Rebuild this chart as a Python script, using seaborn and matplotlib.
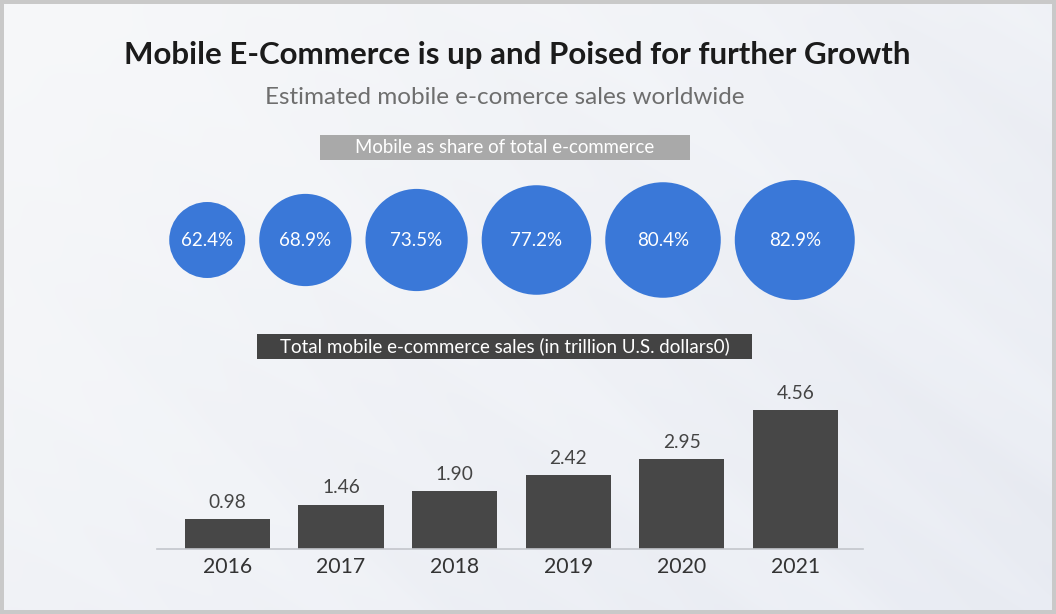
import numpy as np
import pandas as pd
import matplotlib
matplotlib.use("Agg")
import matplotlib.pyplot as plt
from matplotlib.patches import Rectangle
import seaborn as sns

# ---------------- data ----------------
years = ["2016", "2017", "2018", "2019", "2020", "2021"]
mobile_share = [62.4, 68.9, 73.5, 77.2, 80.4, 82.9]          # % of total e-commerce
sales_trillion = [0.98, 1.46, 1.90, 2.42, 2.95, 4.56]         # trillion U.S. dollars
share_labels = ["62.4%", "68.9%", "73.5%", "77.2%", "80.4%", "82.9%"]
sales_labels = ["0.98", "1.46", "1.90", "2.42", "2.95", "4.56"]

title = "Mobile E-Commerce is up and Poised for further Growth"
subtitle = "Estimated mobile e-comerce sales worldwide"
share_header = "Mobile as share of total e-commerce"
sales_header = "Total mobile e-commerce sales (in trillion U.S. dollars0)"

# ---------------- style ----------------
sns.set_theme(style="white")
plt.rcParams["font.family"] = ["Lato", "DejaVu Sans"]

W, H, DPI = 1056, 614, 100
fig = plt.figure(figsize=(W / DPI, H / DPI), dpi=DPI, facecolor="#c9c9c9")

# background panel (decorative gradient with soft diagonal streaks)
bg = fig.add_axes([4 / W, 4 / H, (W - 8) / W, (H - 8) / H])
yy, xx = np.mgrid[0:H, 0:W].astype(float)
t = (xx / W * 0.6 + yy / H * 0.4)
u = xx * 0.62 - yy * 0.78
streak = (np.sin(u / 23.0) * 0.5 + np.sin(u / 9.0 + 1.3) * 0.3 + np.sin(u / 51.0 + 0.7) * 0.6)
r = 247 - 14 * t + 2.5 * streak * t
g = 248 - 12 * t + 2.5 * streak * t
b = 250 - 7 * t + 2.0 * streak * t
img = np.clip(np.dstack([r, g, b]) / 255.0, 0, 1)
bg.imshow(img, aspect="auto", extent=[0, 1, 0, 1], zorder=0)
bg.set_axis_off()

# overlay axes in pixel coordinates for text and header boxes
ov = fig.add_axes([0, 0, 1, 1], facecolor="none")

ov.text(517, 55, title, ha="center", va="center", fontsize=22.5, fontweight="bold", color="#1b1b1b")
ov.text(505, 98, subtitle, ha="center", va="center", fontsize=17.5, color="#6e6e6e")

ov.add_patch(Rectangle((320, 135), 370, 25, facecolor="#a9a9a9", edgecolor="none"))
ov.text(505, 147.5, share_header, ha="center", va="center", fontsize=13.4, color="white")

ov.add_patch(Rectangle((257, 334), 495, 25, facecolor="#434343", edgecolor="none"))
ov.text(504.5, 346.5, sales_header, ha="center", va="center", fontsize=13.5, color="white")

# ---------------- bubbles ----------------
s_min, s_max = (76 * 0.72) ** 2, (120 * 0.72) ** 2
vals = np.array(mobile_share)
areas = s_min + (vals - vals.min()) / (vals.max() - vals.min()) * (s_max - s_min)
diam_px = np.sqrt(areas) / 0.72
gap = 14
total = diam_px.sum() + gap * (len(vals) - 1)
left = 512 - total / 2
centers = left + np.cumsum(diam_px) - diam_px / 2 + gap * np.arange(len(vals))

bub = pd.DataFrame({"x": centers, "y": [240] * len(vals), "share": mobile_share})
sns.scatterplot(data=bub, x="x", y="y", size="share", sizes=(s_min, s_max),
                color="#3a78d8", linewidth=0, legend=False, ax=ov, zorder=3)
ov.set_xlim(0, W)
ov.set_ylim(H, 0)
ov.set_axis_off()
for cx, lab in zip(centers, share_labels):
    ov.text(cx, 240, lab, ha="center", va="center", fontsize=13.5, color="white", zorder=4)

# ---------------- bars ----------------
axb = fig.add_axes([157 / W, (H - 549) / H, 706 / W, 169 / H], facecolor="none")
df = pd.DataFrame({"year": years, "sales": sales_trillion})
sns.barplot(data=df, x="year", y="sales", color="#474747", saturation=1, width=0.75,
            linewidth=0, edgecolor="none", ax=axb)
axb.set_xlim(-0.62, 5.595)
axb.set_ylim(0, 5.55)
for i, (v, lab) in enumerate(zip(sales_trillion, sales_labels)):
    axb.annotate(lab, (i, v), xytext=(0, 17), textcoords="offset pixels",
                 ha="center", va="center", fontsize=13.8, color="#444444")
sns.despine(ax=axb, left=True, top=True, right=True)
axb.spines["bottom"].set_color("#c3c6cc")
axb.spines["bottom"].set_linewidth(1.2)
axb.set_yticks([])
axb.set_xlabel("")
axb.set_ylabel("")
axb.tick_params(axis="x", length=0, labelsize=15.3, labelcolor="#333333", pad=6)

fig.savefig("out.png", dpi=DPI, facecolor=fig.get_facecolor())
